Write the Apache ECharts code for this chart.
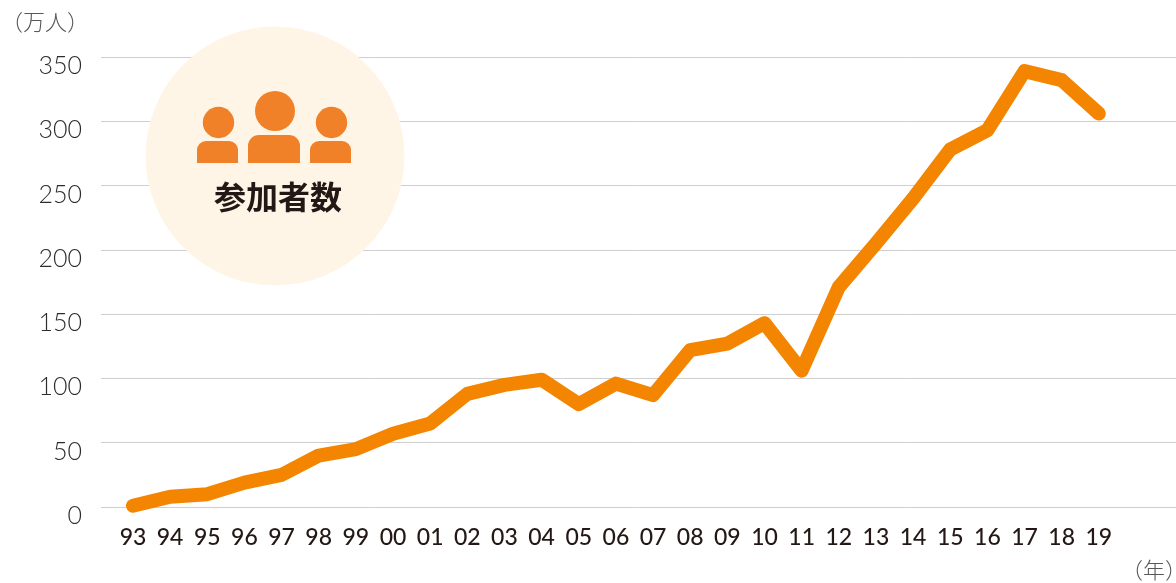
<!DOCTYPE html>
<html lang="ja">

<head>
  <meta charset="UTF-8">
  <title>参加者数</title>
  <script src="https://cdn.jsdelivr.net/npm/echarts@6/dist/echarts.min.js"></script>
  <style>
    html, body { margin: 0; padding: 0; background: #fff; }
  </style>
</head>

<body>
  <div id="main" style="width: 1176px;height:583px;"></div>

  <script type="text/javascript">
    // Data
    const years = ['93', '94', '95', '96', '97', '98', '99', '00', '01', '02', '03', '04', '05', '06',
      '07', '08', '09', '10', '11', '12', '13', '14', '15', '16', '17', '18', '19'];
    const participants = [1, 8, 10, 19, 25, 40, 45, 57, 65, 88, 95, 99, 80, 96,
      87, 122, 127, 143, 106, 171, 205, 240, 278, 293, 339, 332, 306];
    const yTicks = { min: 0, max: 350, interval: 50 };

    const iconColor = '#f18128';
    const latin = 'Lato, sans-serif';
    const cjk = '"Noto Sans CJK JP", sans-serif';

    function head(cx, cy, r) {
      return { type: 'circle', z: 11, shape: { cx, cy, r }, style: { fill: iconColor } };
    }
    function body(x, y, width, height, r) {
      return { type: 'rect', z: 11, shape: { x, y, width, height, r: [r, r, 0, 0] }, style: { fill: iconColor } };
    }
    function note(x, y, text) {
      return {
        type: 'text', x, y,
        style: { text, fill: '#595757', font: '300 22px ' + cjk, textVerticalAlign: 'middle' }
      };
    }

    let myChart = echarts.init(document.getElementById('main'));

    myChart.setOption({
      animation: false,
      // first grid only carries the horizontal lines, second one the line series
      grid: [
        { left: 101, right: 0, top: 57, bottom: 76 },
        { left: 114.4, width: 1003, top: 57, bottom: 76 }
      ],
      xAxis: [
        { gridIndex: 0, type: 'category', show: false, data: years },
        {
          gridIndex: 1,
          type: 'category',
          data: years,
          axisLine: { show: false },
          axisTick: { show: false },
          axisLabel: { color: '#231815', fontFamily: latin, fontWeight: 500, fontSize: 23, margin: 19, interval: 0 }
        }
      ],
      yAxis: [
        {
          gridIndex: 0,
          type: 'value',
          min: yTicks.min,
          max: yTicks.max,
          interval: yTicks.interval,
          axisLine: { show: false },
          axisTick: { show: false },
          axisLabel: {
            margin: 19,
            formatter: '{v|{value}}',
            // labels sit a little below their grid line
            rich: {
              v: {
                color: '#2f2b2a', fontFamily: latin, fontWeight: 300, fontSize: 25,
                padding: [18, 0, 0, 0]
              }
            }
          },
          splitLine: { lineStyle: { color: '#cfcfcf', width: 1 } }
        },
        {
          gridIndex: 1,
          type: 'value',
          show: false,
          min: yTicks.min,
          max: yTicks.max,
          interval: yTicks.interval
        }
      ],
      series: [{
        name: '参加者数',
        type: 'line',
        xAxisIndex: 1,
        yAxisIndex: 1,
        data: participants,
        showSymbol: false,
        clip: false,
        lineStyle: { color: '#f38500', width: 14, cap: 'round', join: 'round' }
      }],
      graphic: [
        { type: 'circle', z: 10, shape: { cx: 275, cy: 156, r: 129.5 }, style: { fill: '#fff5e7' } },
        head(218.5, 122.5, 15.7),
        body(197, 141, 41, 22, 9),
        head(275, 111, 20),
        body(248, 135, 52, 28, 11),
        head(331.5, 122.5, 15.7),
        body(310, 141, 41, 22, 9),
        {
          type: 'text', z: 11, x: 278, y: 197,
          style: {
            text: '参加者数', fill: '#231815', font: '700 32px ' + cjk,
            textAlign: 'center', textVerticalAlign: 'middle'
          }
        },
        note(1, 22, '（万人）'),
        note(1121, 570, '（年）')
      ]
    });
  </script>
</body>

</html>
